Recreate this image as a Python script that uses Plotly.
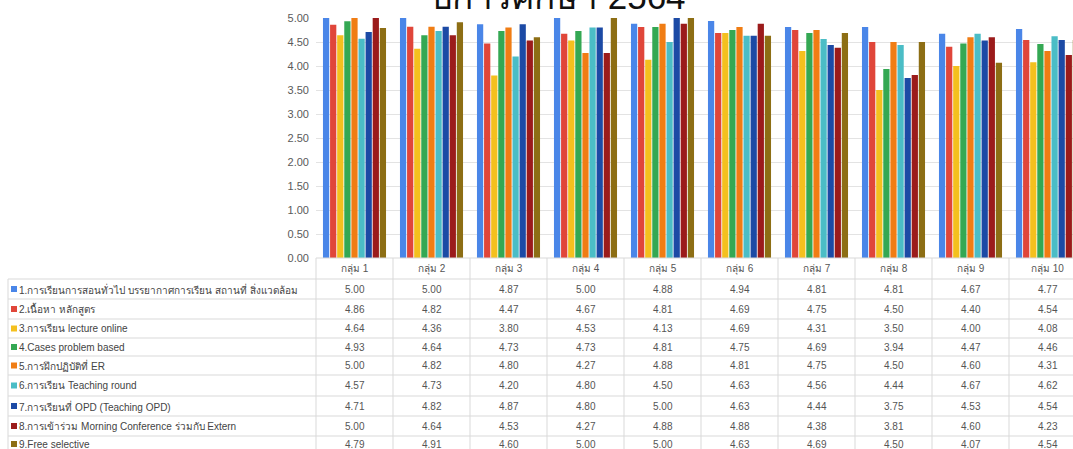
import plotly.graph_objects as go

# ---- data -------------------------------------------------------------
groups = ["กลุ่ม 1", "กลุ่ม 2", "กลุ่ม 3", "กลุ่ม 4", "กลุ่ม 5",
          "กลุ่ม 6", "กลุ่ม 7", "กลุ่ม 8", "กลุ่ม 9", "กลุ่ม 10"]

topics = [
    "1.การเรียนการสอนทั่วไป บรรยากาศการเรียน สถานที่ สิ่งแวดล้อม",
    "2.เนื้อหา หลักสูตร",
    "3.การเรียน lecture online",
    "4.Cases problem based",
    "5.การฝึกปฏิบัติที่ ER",
    "6.การเรียน Teaching round",
    "7.การเรียนที่ OPD (Teaching OPD)",
    "8.การเข้าร่วม Morning Conference ร่วมกับ Extern",
    "9.Free selective",
]

general = [5.00, 5.00, 4.87, 5.00, 4.88, 4.94, 4.81, 4.81, 4.67, 4.77]
content = [4.86, 4.82, 4.47, 4.67, 4.81, 4.69, 4.75, 4.50, 4.40, 4.54]
lecture_online = [4.64, 4.36, 3.80, 4.53, 4.13, 4.69, 4.31, 3.50, 4.00, 4.08]
cases_pbl = [4.93, 4.64, 4.73, 4.73, 4.81, 4.75, 4.69, 3.94, 4.47, 4.46]
er_practice = [5.00, 4.82, 4.80, 4.27, 4.88, 4.81, 4.75, 4.50, 4.60, 4.31]
teaching_round = [4.57, 4.73, 4.20, 4.80, 4.50, 4.63, 4.56, 4.44, 4.67, 4.62]
teaching_opd = [4.71, 4.82, 4.87, 4.80, 5.00, 4.63, 4.44, 3.75, 4.53, 4.54]
morning_conf = [5.00, 4.64, 4.53, 4.27, 4.88, 4.88, 4.38, 3.81, 4.60, 4.23]
free_selective = [4.79, 4.91, 4.60, 5.00, 5.00, 4.63, 4.69, 4.50, 4.07, 4.54]

series = [general, content, lecture_online, cases_pbl, er_practice,
          teaching_round, teaching_opd, morning_conf, free_selective]

colors = ["#4a86e8", "#e0463a", "#f4c01e", "#34a853", "#f07d14",
          "#4bbdc6", "#1c4aa5", "#9b1b1b", "#8d6e14"]

y_ticks = [0.0, 0.5, 1.0, 1.5, 2.0, 2.5, 3.0, 3.5, 4.0, 4.5, 5.0]

# ---- geometry -----------------------------------------------------------
W, H = 1073, 449
L, T = 316, 18
PLOT_H = 240
GROUP_PX = 77.0
X_RANGE = [-0.5, -0.5 + (W - L) / GROUP_PX]
BOTTOM = H - T - PLOT_H


def paper_x(px):
    return (px - L) / (W - L)


def paper_y(py):
    return (T + PLOT_H - py) / PLOT_H


fig = go.Figure()
for name, vals, col in zip(topics, series, colors):
    fig.add_trace(go.Bar(x=groups, y=vals, name=name, marker_color=col,
                         marker_line_width=0))

# ---- data table under the chart ---------------------------------------
grid = "#d9d9d9"
txt = "#555555"
row_lines = [279, 299, 319, 338, 356, 375, 396, 416, 436, 456]
header_top = 258

shapes = []
# horizontal rules
shapes.append(dict(type="line", xref="paper", yref="paper",
                   x0=0, x1=1, y0=paper_y(header_top), y1=paper_y(header_top),
                   line=dict(color=grid, width=1)))
for py in row_lines:
    shapes.append(dict(type="line", xref="paper", yref="paper",
                       x0=paper_x(8), x1=1, y0=paper_y(py), y1=paper_y(py),
                       line=dict(color=grid, width=1)))
# vertical rules
shapes.append(dict(type="line", xref="paper", yref="paper",
                   x0=paper_x(8), x1=paper_x(8),
                   y0=paper_y(row_lines[0]), y1=paper_y(H + 5),
                   line=dict(color=grid, width=1)))
for k in range(len(groups)):
    xb = L + GROUP_PX * k
    shapes.append(dict(type="line", xref="paper", yref="paper",
                       x0=paper_x(xb), x1=paper_x(xb),
                       y0=paper_y(header_top), y1=paper_y(H + 5),
                       line=dict(color=grid, width=1)))

annotations = []
# column headers
hdr_y = paper_y((header_top + row_lines[0]) / 2)
for g in groups:
    annotations.append(dict(x=g, xref="x", y=hdr_y, yref="paper",
                            text=g, showarrow=False, xanchor="center",
                            yanchor="middle",
                            font=dict(size=10, color=txt)))
# body rows
for r, (name, vals, col) in enumerate(zip(topics, series, colors)):
    y_top = row_lines[r]
    y_bot = row_lines[r + 1] if r + 1 < len(row_lines) else y_top + 20
    if r == len(topics) - 1:
        y_bot = 452
    yc = paper_y((y_top + y_bot) / 2)
    shapes.append(dict(type="rect", xref="paper", yref="paper",
                       x0=paper_x(11), x1=paper_x(17),
                       y0=yc - 3 / PLOT_H, y1=yc + 3 / PLOT_H,
                       fillcolor=col, line=dict(width=0)))
    annotations.append(dict(x=paper_x(17), xref="paper", y=yc, yref="paper",
                            text=name, showarrow=False, xanchor="left",
                            yanchor="middle",
                            font=dict(size=10, color="#444444")))
    for g, v in zip(groups, vals):
        annotations.append(dict(x=g, xref="x", y=yc, yref="paper",
                                text=f"{v:.2f}", showarrow=False,
                                xanchor="center", yanchor="middle",
                                font=dict(size=10, color=txt)))

# title (runs off the top edge)
annotations.append(dict(x=paper_x(557), xref="paper", y=paper_y(18.5),
                        yref="paper", text="ปีการศึกษา 2564",
                        showarrow=False, xanchor="center", yanchor="bottom",
                        font=dict(size=35, color="#111111")))

fig.update_layout(
    width=W, height=H,
    margin=dict(l=L, r=0, t=T, b=BOTTOM, pad=0),
    paper_bgcolor="white", plot_bgcolor="white",
    barmode="group", bargap=0.17, bargroupgap=0.12,
    showlegend=False,
    font=dict(family="Liberation Sans, Arial, sans-serif"),
    xaxis=dict(range=X_RANGE, showticklabels=False, showgrid=False,
               zeroline=False, showline=False, ticks=""),
    yaxis=dict(range=[0, 5], tickvals=y_ticks,
               ticktext=[f"{v:.2f}" for v in y_ticks],
               showgrid=True, gridcolor="#e3e3e3", gridwidth=1,
               zeroline=False, showline=False, ticks="",
               ticklabelstandoff=6,
               tickfont=dict(size=11, color="#5a5a5a")),
    shapes=shapes,
    annotations=annotations,
)

fig.write_html("out.html")
